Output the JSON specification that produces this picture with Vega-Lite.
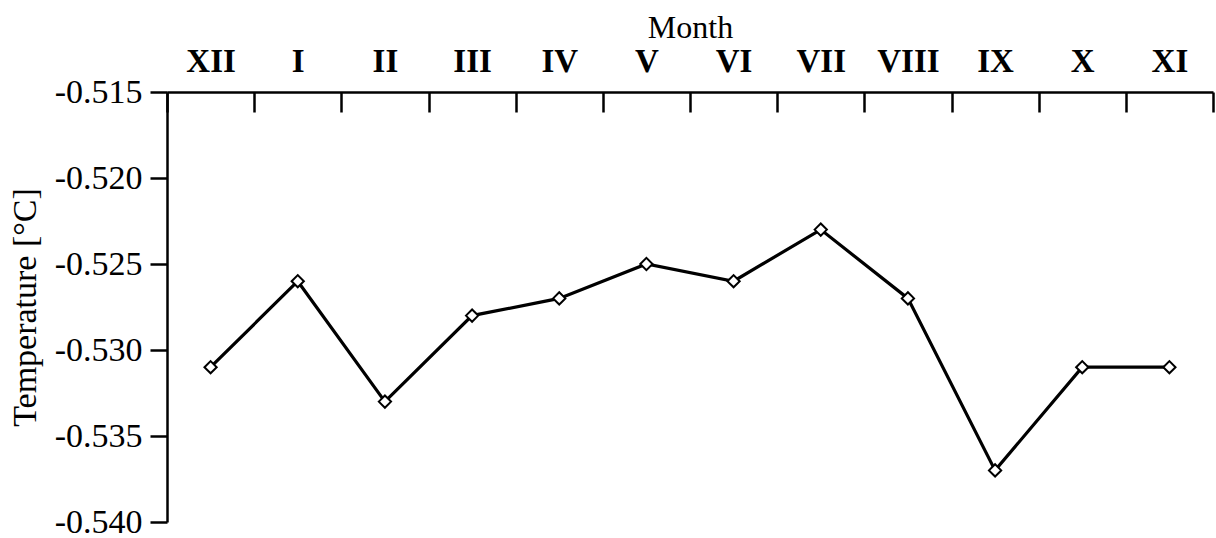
{
  "$schema": "https://vega.github.io/schema/vega-lite/v6.json",
  "width": 1046,
  "height": 430,
  "autosize": {"type": "none"},
  "padding": {"left": 167, "top": 92, "right": 3, "bottom": 16},
  "background": "white",
  "config": {
    "view": {"stroke": null},
    "font": "Liberation Serif"
  },
  "data": {
    "values": [
      {"month": "XII", "temp": -0.531},
      {"month": "I", "temp": -0.526},
      {"month": "II", "temp": -0.533},
      {"month": "III", "temp": -0.528},
      {"month": "IV", "temp": -0.527},
      {"month": "V", "temp": -0.525},
      {"month": "VI", "temp": -0.526},
      {"month": "VII", "temp": -0.523},
      {"month": "VIII", "temp": -0.527},
      {"month": "IX", "temp": -0.537},
      {"month": "X", "temp": -0.531},
      {"month": "XI", "temp": -0.531}
    ]
  },
  "encoding": {
    "x": {
      "field": "month",
      "type": "nominal",
      "sort": null,
      "scale": {"paddingInner": 0, "paddingOuter": 0},
      "axis": {
        "orient": "top",
        "title": "Month",
        "titleFont": "Liberation Serif",
        "titleFontSize": 32,
        "titleFontWeight": "normal",
        "titleColor": "black",
        "titlePadding": 1,
        "labelFont": "Liberation Serif",
        "labelFontSize": 33,
        "labelFontWeight": "bold",
        "labelColor": "black",
        "labelAngle": 0,
        "labelPadding": 34,
        "tickBand": "extent",
        "tickSize": -20,
        "tickWidth": 2.5,
        "tickColor": "black",
        "domainColor": "black",
        "domainWidth": 2.5,
        "grid": false
      }
    },
    "y": {
      "field": "temp",
      "type": "quantitative",
      "scale": {"domain": [-0.54, -0.515], "nice": false, "zero": false},
      "axis": {
        "title": "Temperature [°C]",
        "titleFont": "Liberation Serif",
        "titleFontSize": 34,
        "titleFontWeight": "normal",
        "titleColor": "black",
        "titlePadding": 12,
        "values": [-0.54, -0.535, -0.53, -0.525, -0.52, -0.515],
        "format": ".3f",
        "labelExpr": "replace(datum.label, '\u2212', '-')",
        "labelFont": "Liberation Serif",
        "labelFontSize": 34,
        "labelColor": "black",
        "labelPadding": 8,
        "tickSize": 17,
        "tickWidth": 2.5,
        "tickColor": "black",
        "domainColor": "black",
        "domainWidth": 2.5,
        "grid": false
      }
    }
  },
  "layer": [
    {"mark": {"type": "line", "color": "black", "strokeWidth": 3.2}},
    {
      "mark": {
        "type": "point",
        "shape": "diamond",
        "filled": true,
        "fill": "white",
        "stroke": "black",
        "strokeWidth": 2,
        "size": 150,
        "opacity": 1
      }
    }
  ]
}
